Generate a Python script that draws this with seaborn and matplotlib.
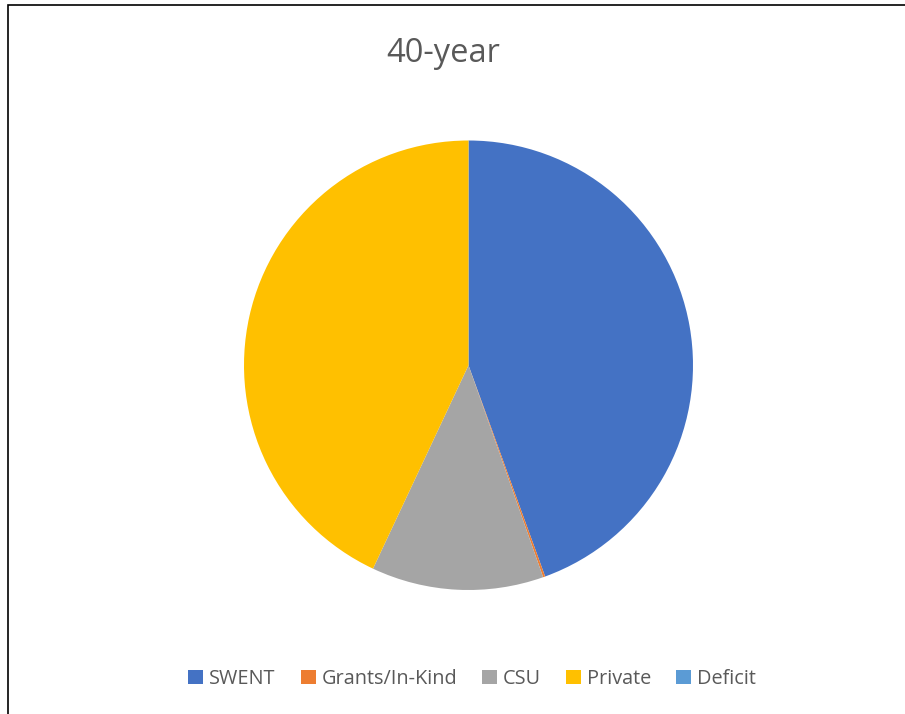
import matplotlib
matplotlib.use("Agg")
import matplotlib.pyplot as plt
import seaborn as sns
from matplotlib.patches import Rectangle

sns.set_theme(style="white")
plt.rcParams['font.family'] = ['Open Sans', 'DejaVu Sans']

categories = ["SWENT", "Grants/In-Kind", "CSU", "Private", "Deficit"]
values = [44.5, 0.15, 12.4, 43.05, 0.0]
colors = ["#4472C4", "#ED7D31", "#A5A5A5", "#FFC000", "#5B9BD5"]

fig = plt.figure(figsize=(9.05, 7.14), dpi=100)
fig.patch.set_facecolor("white")

# outer border
fig.add_artist(Rectangle((8/905, -0.1), 1.2, (714-5)/714 + 0.1, transform=fig.transFigure,
                         fill=False, edgecolor="black", linewidth=1.2))

ax = fig.add_axes([244/905, (714-590)/714, 449/905, 449.5/714])
wedges, _ = ax.pie(values, colors=colors, startangle=90, counterclock=False,
                   radius=1, wedgeprops=dict(linewidth=0))
ax.set_xlim(-1, 1)
ax.set_ylim(-1, 1)
ax.set_aspect("auto")
ax.axis("off")

fig.text(443/905, 1 - 54/714, "40-year", ha="center", va="center",
         fontsize=23.5, color="#595959")

fig.legend(wedges, categories, loc="center", bbox_to_anchor=(472/905, 1 - 679/714),
           ncol=5, frameon=False, fontsize=14.3, handlelength=0.75, handleheight=0.75,
           handletextpad=0.3, columnspacing=1.25, labelcolor="#595959")

fig.savefig("out.png", dpi=100, facecolor="white")
